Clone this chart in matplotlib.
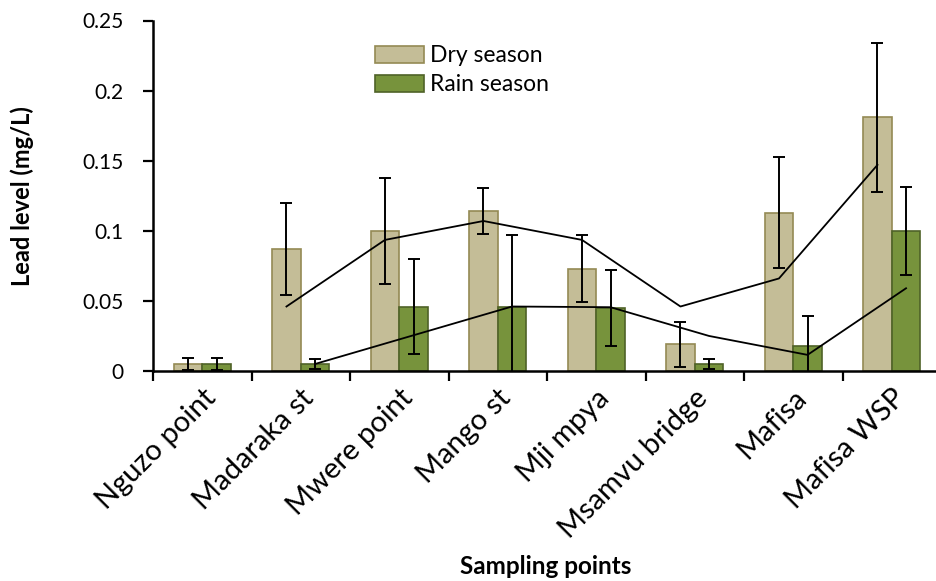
import numpy as np
import pandas as pd
import matplotlib
matplotlib.use("Agg")
import matplotlib.pyplot as plt

plt.rcParams['font.family'] = ['Lato', 'DejaVu Sans']

sites = ["Nguzo point", "Madaraka st", "Mwere point", "Mango st",
         "Mji mpya", "Msamvu bridge", "Mafisa", "Mafisa WSP"]
dry = [0.005, 0.087, 0.100, 0.114, 0.073, 0.019, 0.113, 0.181]
dry_err = [0.004, 0.0325, 0.038, 0.0165, 0.024, 0.016, 0.0395, 0.053]
rain = [0.005, 0.005, 0.046, 0.046, 0.045, 0.005, 0.018, 0.100]
rain_err = [0.004, 0.0035, 0.034, 0.051, 0.027, 0.0035, 0.021, 0.0315]

dry_col, dry_edge = "#C4BD97", "#948A54"
rain_col, rain_edge = "#77933C", "#4F6228"

fig = plt.figure(figsize=(9.36, 5.81), dpi=100)
ax = fig.add_axes([153/936, 210/581, 788/936, 350.5/581])

x = np.arange(len(sites))
w = 0.29
ax.bar(x - w/2, dry, w, color=dry_col, edgecolor=dry_edge, linewidth=1.2, label="Dry season", zorder=2)
ax.bar(x + w/2, rain, w, color=rain_col, edgecolor=rain_edge, linewidth=1.2, label="Rain season", zorder=2)
ax.errorbar(x - w/2, dry, yerr=dry_err, fmt='none', ecolor='black', elinewidth=1.4, capsize=4, capthick=1.4, zorder=3)
ax.errorbar(x + w/2, rain, yerr=rain_err, fmt='none', ecolor='black', elinewidth=1.4, capsize=4, capthick=1.4, zorder=3)

# 2-period moving average trendlines
dry_ma = pd.Series(dry).rolling(2).mean()
rain_ma = pd.Series(rain).rolling(2).mean()
ax.plot(x[1:] - w/2, dry_ma[1:], color='black', lw=1.3, zorder=4)
ax.plot(x[1:] + w/2, rain_ma[1:], color='black', lw=1.3, zorder=4)

ax.set_xlim(-0.5, len(sites) - 0.5)
ax.set_ylim(0, 0.25)
ax.set_yticks([0, 0.05, 0.1, 0.15, 0.2, 0.25])
ax.set_yticklabels(["0", "0.05", "0.1", "0.15", "0.2", "0.25"], fontsize=15)
ax.set_xticks(np.arange(len(sites) + 1) - 0.5)
ax.set_xticklabels([])
ax.set_xticks(x, minor=True)
ax.set_xticklabels(sites, minor=True, rotation=45, ha='right', rotation_mode='anchor', fontsize=21)
ax.tick_params(axis='x', which='minor', length=0, pad=10)
ax.tick_params(axis='both', which='major', length=7, width=1.6, direction='out')
ax.tick_params(axis='y', pad=14)

for s in ['top', 'right']:
    ax.spines[s].set_visible(False)
for s in ['left', 'bottom']:
    ax.spines[s].set_linewidth(1.8)

ax.set_ylabel("Lead level (mg/L)", fontsize=17, fontweight='bold')
ax.yaxis.set_label_coords(-0.151, 0.5)
fig.text(546/936, 1 - 566/581, "Sampling points", fontsize=17.5, fontweight='bold', ha='center', va='center')

ax.legend(loc='upper left', bbox_to_anchor=(0.262, 0.975), frameon=False, fontsize=16.5,
          handlelength=2.1, handleheight=0.8, handletextpad=0.3, labelspacing=0.35, borderpad=0.2)

fig.savefig("out.png", dpi=100)
